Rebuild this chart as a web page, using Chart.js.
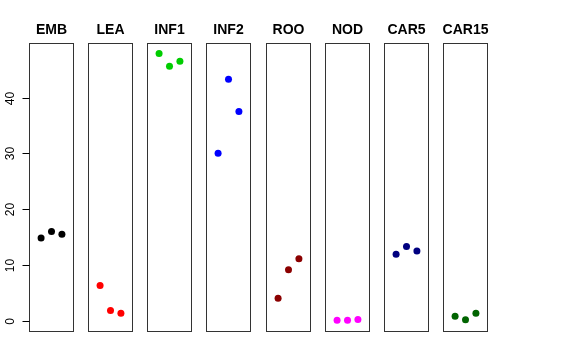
<!DOCTYPE html>
<html>
<head>
<meta charset="utf-8">
<script src="https://cdn.jsdelivr.net/npm/chart.js@4.4.1/dist/chart.umd.min.js"></script>
<style>
  html, body { margin: 0; padding: 0; background: #fff; }
  #wrap { position: relative; width: 576px; height: 360px; overflow: hidden; }
  #wrap canvas { position: absolute; top: 0; }
</style>
</head>
<body>
<div id="wrap"></div>
<script>
// data
const tissues = ['EMB', 'LEA', 'INF1', 'INF2', 'ROO', 'NOD', 'CAR5', 'CAR15'];
const colors = ['#000000', '#ff0000', '#00cd00', '#0000ff', '#8b0000', '#ff00ff', '#000080', '#006400'];
const reps = [1, 2, 3];
const valEMB = [14.8, 16.0, 15.5];
const valLEA = [6.3, 1.8, 1.3];
const valINF1 = [47.9, 45.6, 46.5];
const valINF2 = [30.0, 43.3, 37.5];
const valROO = [4.0, 9.1, 11.1];
const valNOD = [0.05, 0.05, 0.2];
const valCAR5 = [11.9, 13.3, 12.5];
const valCAR15 = [0.8, 0.15, 1.3];
const yTicks = [0, 10, 20, 30, 40];

const series = [valEMB, valLEA, valINF1, valINF2, valROO, valNOD, valCAR5, valCAR15];

// R style axis limits (4% extension)
const allVals = series.flat();
const lo = Math.min(...allVals), hi = Math.max(...allVals);
const yMin = lo - 0.04 * (hi - lo), yMax = hi + 0.04 * (hi - lo);
const xMin = 0 - 0.16, xMax = 4 + 0.16;

const firstLeft = 29, pitch = 59.15, panelW = 45, side = 29;
const wrap = document.getElementById('wrap');

const boxPlugin = {
  id: 'box',
  afterDraw(chart) {
    const a = chart.chartArea, ctx = chart.ctx;
    ctx.save();
    ctx.strokeStyle = '#333';
    ctx.lineWidth = 1;
    ctx.strokeRect(Math.round(a.left) + 0.5, Math.round(a.top) + 0.5,
      Math.round(a.right - a.left) - 1, Math.round(a.bottom - a.top));
    ctx.restore();
  }
};

// rotated y tick labels and tick marks, like R's axis(2)
const yAxisPlugin = {
  id: 'yAxisR',
  afterDraw(chart) {
    const s = chart.scales.y;
    if (!s.options.display) return;
    const ctx = chart.ctx;
    const x0 = Math.round(chart.chartArea.left) + 0.5;
    ctx.save();
    ctx.strokeStyle = '#000';
    ctx.lineWidth = 1;
    ctx.fillStyle = '#000';
    ctx.font = '12px "Liberation Sans", Arial, sans-serif';
    ctx.textAlign = 'center';
    ctx.textBaseline = 'middle';
    yTicks.forEach(v => {
      const y = Math.round(s.getPixelForValue(v)) + 0.5;
      ctx.beginPath();
      ctx.moveTo(x0 - 7, y);
      ctx.lineTo(x0, y);
      ctx.stroke();
      ctx.save();
      ctx.translate(11, y);
      ctx.rotate(-Math.PI / 2);
      ctx.fillText(String(v), 0, 0);
      ctx.restore();
    });
    ctx.restore();
  }
};

tissues.forEach((name, i) => {
  const cv = document.createElement('canvas');
  const left = Math.round(firstLeft + pitch * i - side);
  cv.style.left = left + 'px';
  cv.width = panelW + 2 * side;
  cv.height = 360;
  cv.style.width = cv.width + 'px';
  cv.style.height = '360px';
  wrap.appendChild(cv);
  const first = i === 0;

  new Chart(cv, {
    type: 'scatter',
    data: {
      datasets: [{
        data: reps.map((r, k) => ({ x: r, y: series[i][k] })),
        backgroundColor: colors[i],
        borderColor: colors[i],
        pointRadius: 3.5,
        pointHoverRadius: 3.5,
        borderWidth: 0
      }]
    },
    options: {
      responsive: false,
      animation: false,
      events: [],
      layout: { padding: { left: 0, right: 0, top: 0, bottom: 29 } },
      plugins: {
        legend: { display: false },
        tooltip: { enabled: false },
        title: {
          display: true,
          text: name,
          color: '#000',
          font: { family: '"Liberation Sans", Arial, sans-serif', size: 14, weight: 'bold' },
          padding: { top: 22, bottom: 4 }
        }
      },
      scales: {
        x: { type: 'linear', display: false, min: xMin, max: xMax },
        y: {
          type: 'linear',
          position: 'left',
          display: first,
          min: yMin,
          max: yMax,
          afterBuildTicks: s => { s.ticks = yTicks.map(v => ({ value: v })); },
          afterFit: s => { s.width = side; },
          border: { display: false },
          grid: { display: false },
          ticks: { display: false }
        },
        y2: {
          type: 'linear',
          axis: 'y',
          position: 'right',
          display: false,
          min: yMin,
          max: yMax,
          afterFit: s => { s.width = side; }
        }
      }
    },
    plugins: [boxPlugin, yAxisPlugin]
  });
});
</script>
</body>
</html>
